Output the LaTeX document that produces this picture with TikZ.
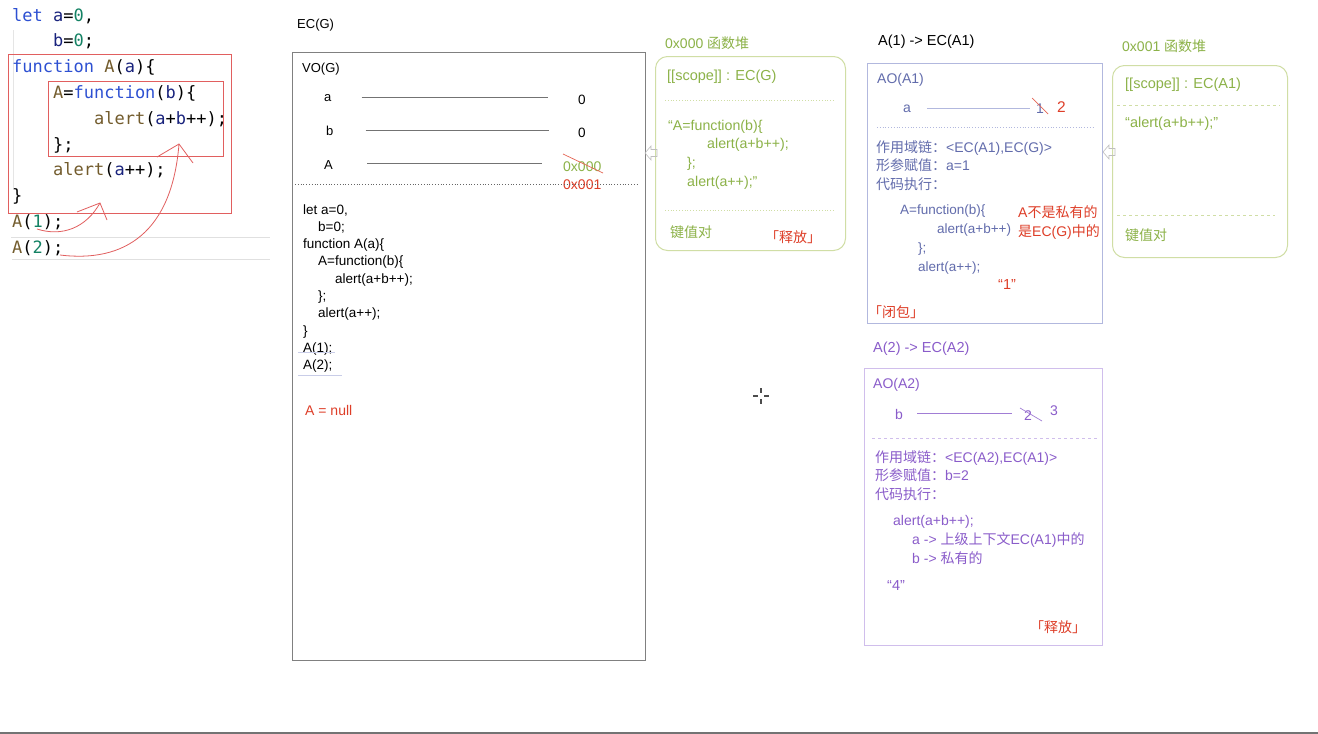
\documentclass[tikz,border=0pt]{standalone}
\usepackage{fontspec}
\setmainfont{Liberation Sans}
\setmonofont{DejaVu Sans Mono}
\newfontfamily\cjk{Noto Sans CJK SC}
\newcommand{\zh}[1]{{\cjk #1}}
\usepackage{xcolor}
\usetikzlibrary{arrows}

\definecolor{kwblue}{RGB}{45,80,210}
\definecolor{varnavy}{RGB}{25,35,125}
\definecolor{numgreen}{RGB}{20,130,100}
\definecolor{fnbrown}{RGB}{115,92,45}
\definecolor{penred}{RGB}{225,95,95}
\definecolor{notered}{RGB}{222,62,40}
\definecolor{heapgreen}{RGB}{140,178,72}
\definecolor{heapline}{RGB}{208,222,165}
\definecolor{aoblue}{RGB}{98,108,172}
\definecolor{aoline}{RGB}{178,184,222}
\definecolor{aopurple}{RGB}{138,92,202}
\definecolor{purpleline}{RGB}{208,190,236}

\newcommand{\kw}[1]{\textcolor{kwblue}{#1}}
\newcommand{\vr}[1]{\textcolor{varnavy}{#1}}
\newcommand{\nm}[1]{\textcolor{numgreen}{#1}}
\newcommand{\fn}[1]{\textcolor{fnbrown}{#1}}

\begin{document}
\begin{tikzpicture}[x=1pt, y=-1pt, >=latex']
    % multi-line nodes sit on the baseline of their last line
    \tikzstyle{txt} = [anchor=base west, inner sep=0pt, font=\fontsize{13}{17.3}\selectfont]
    \tikzstyle{big} = [txt, font=\fontsize{14.5}{19}\selectfont]
    \tikzstyle{code} = [txt, align=left, font=\ttfamily\fontsize{17}{25.8}\selectfont]
    \tikzstyle{aotxt} = [txt, align=left, font=\fontsize{14}{18.5}\selectfont]
    \tikzstyle{frame} = [draw, anchor=north west, inner sep=0pt]
    \tikzstyle{heap} = [frame, draw=heapline, line width=1pt, rounded corners=12pt]
    \tikzstyle{redpen} = [draw=penred, line width=0.8pt]
    \tikzstyle{strike} = [draw=notered!80, line width=0.7pt]
    \tikzstyle{hookline} = [draw=black!25, line width=0.6pt]
    \newcommand{\hookarrow}[2]{\path[hookline] (#1,#2) -- ++(6,-7) -- ++(0,3.5) -- ++(6,0)
        -- ++(0,7) -- ++(-6,0) -- ++(0,3.5) -- cycle;}

    \useasboundingbox (0,0) rectangle (1318,734);
    \fill[white] (0,0) rectangle (1318,734);

    % source code, top left
    \draw[black!12] (11,237) -- (270,237);
    \draw[black!12] (12,259) -- (270,259);
    \draw[black!10] (13,30) -- (13,190);
    \node [code] (src) at (12,253.2) {\kw{let} \vr{a}=\nm{0},\\
        \phantom{0000}\vr{b}=\nm{0};\\
        \kw{function} \fn{A}(\vr{a})\{\\
        \phantom{0000}\fn{A}=\kw{function}(\vr{b})\{\\
        \phantom{00000000}\fn{alert}(\vr{a}+\vr{b}++);\\
        \phantom{0000}\};\\
        \phantom{0000}\fn{alert}(\vr{a}++);\\
        \}\\
        \fn{A}(\nm{1});\\
        \fn{A}(\nm{2});};
    \draw[penred] (8,54) rectangle (231,213);
    \draw[penred] (48,81) rectangle (223,156);
    \coordinate (callone) at (37,229);
    \coordinate (calltwo) at (60,255);
    \coordinate (outerfn) at (100,203);
    \coordinate (innerfn) at (179,144);
    \path [redpen] (callone) .. controls (62,237) and (86,228) .. (outerfn);
    \path [redpen] (77,212) -- (outerfn) -- (107,220);
    \path [redpen] (calltwo) .. controls (125,263) and (172,232) .. (innerfn);
    \path [redpen] (157,157) -- (innerfn) -- (193,163);

    % EC(G)
    \node [txt] (ecglabel) at (297,28) {EC(G)};
    \node [frame, draw=black!50, line width=0.9pt, minimum width=353pt, minimum height=608pt] (ecg) at (292,52) {};
    \node [txt] (vog) at (302,72) {VO(G)};
    \node [txt] (va) at (324,101) {a};
    \node [txt, font=\fontsize{13.5}{17}\selectfont] (za) at (578,104) {0};
    \node [txt] (vb) at (326,135) {b};
    \node [txt, font=\fontsize{13.5}{17}\selectfont] (zb) at (578,137) {0};
    \node [txt] (vA) at (324,169) {A};
    \node [txt, text=heapgreen, font=\fontsize{14}{17}\selectfont] (addrG) at (563,171) {0x000};
    \node [txt, text=notered, font=\fontsize{14}{17}\selectfont] (addrA) at (563,189) {0x001};
    \draw[black!55] (va.east) +(30,0) -- +(216,0);
    \draw[black!55] (vb.east) +(32,0) -- +(215,0);
    \draw[black!55] (vA.east) +(34,-1) -- +(209,-1);
    \draw[strike] (563,154) -- (603,173);
    \draw[black!60, dotted, line width=0.8pt] (295,184) -- (637,184);
    \node [txt, align=left, font=\fontsize{13.5}{17.3}\selectfont] (gcode) at (303,369.7) {let a=0,\\
        \hspace*{15pt}b=0;\\
        function A(a)\{\\
        \hspace*{15pt}A=function(b)\{\\
        \hspace*{32pt}alert(a+b++);\\
        \hspace*{15pt}\};\\
        \hspace*{15pt}alert(a++);\\
        \}\\
        A(1);\\
        A(2);};
    \draw[aoline!70] (298,352) -- (335,352);
    \draw[aoline!70] (298,375) -- (342,375);
    \node [txt, text=notered, font=\fontsize{14}{17}\selectfont] (anull) at (305,415) {A = null};

    % 0x000 heap
    \node [txt, text=heapgreen, font=\fontsize{14}{17}\selectfont] (heapGlabel) at (665,48) {0x000 \zh{函数堆}};
    \node [heap, minimum width=190pt, minimum height=194pt] (heapG) at (655,56) {};
    \node [big, text=heapgreen] (scopeG) at (667,80) {[[scope]] : EC(G)};
    \draw[heapline, dotted, line width=0.8pt] (665,100) -- (835,100);
    \node [big, align=left, text=heapgreen, font=\fontsize{14.2}{18.8}\selectfont] (bodyG) at (668,186.4) {“A=function(b)\{\\
        \hspace*{39pt}alert(a+b++);\\
        \hspace*{19pt}\};\\
        \hspace*{19pt}alert(a++);”};
    \draw[heapline, dotted, line width=0.8pt] (665,210) -- (835,210);
    \node [txt, text=heapgreen, font=\fontsize{14}{17}\selectfont] (kvG) at (670,237) {\zh{键值对}};
    \node [txt, text=notered, font=\fontsize{14}{17}\selectfont] (freeG) at (765,242) {\zh{「释放」}};
    \hookarrow{645}{153}

    % A(1) -> EC(A1)
    \node [big] (ecaone) at (878,45) {A(1) -{}> EC(A1)};
    \node [frame, draw=aoline, line width=1pt, minimum width=235pt, minimum height=260pt] (aoone) at (867,63) {};
    \node [txt, text=aoblue, font=\fontsize{14}{17}\selectfont] (aoonelabel) at (877,83) {AO(A1)};
    \node [txt, text=aoblue, font=\fontsize{14}{17}\selectfont] (aa) at (903,112) {a};
    \node [txt, text=aoblue, font=\fontsize{14}{17}\selectfont] (aone) at (1036,113) {1};
    \node [txt, text=notered, font=\fontsize{15.5}{17}\selectfont] (atwo) at (1057,112) {2};
    \draw[aoline] (aa.east) +(16,0) -- +(119,0);
    \draw[strike] (1032,98) -- (1048,114);
    \draw[aoline, dotted, line width=0.8pt] (877,127) -- (1095,127);
    \node [aotxt, text=aoblue] (infoone) at (876,189) {\zh{作用域链：}<EC(A1),EC(G)>\\
        \zh{形参赋值：}a=1\\
        \zh{代码执行：}};
    \node [txt, align=left, text=aoblue, font=\fontsize{13.5}{19.3}\selectfont] (runone) at (900,271.9) {A=function(b)\{\\
        \hspace*{37pt}alert(a+b++)\\
        \hspace*{18pt}\};\\
        \hspace*{18pt}alert(a++);};
    \node [aotxt, text=notered, font=\fontsize{14}{19.3}\selectfont] (notA) at (1018,236.3) {A\zh{不是私有的}\\
        \zh{是}EC(G)\zh{中的}};
    \node [big, text=notered] (outone) at (998,289) {“1”};
    \node [txt, text=notered, font=\fontsize{14}{17}\selectfont] (closure) at (868,317) {\zh{「闭包」}};

    % 0x001 heap
    \node [txt, text=heapgreen, font=\fontsize{14}{17}\selectfont] (heapAlabel) at (1122,51) {0x001 \zh{函数堆}};
    \node [heap, minimum width=175pt, minimum height=192pt] (heapA) at (1112,65) {};
    \node [big, text=heapgreen] (scopeA) at (1125,88) {[[scope]] : EC(A1)};
    \draw[heapline, dashed, line width=0.8pt] (1117,105) -- (1280,105);
    \node [big, text=heapgreen] (bodyA) at (1125,127) {“alert(a+b++);”};
    \draw[heapline, dashed, line width=0.8pt] (1117,215) -- (1275,215);
    \node [txt, text=heapgreen, font=\fontsize{14}{17}\selectfont] (kvA) at (1125,240) {\zh{键值对}};
    \hookarrow{1103}{152}

    % A(2) -> EC(A2)
    \node [big, text=aopurple] (ecatwo) at (873,352) {A(2) -{}> EC(A2)};
    \node [frame, draw=purpleline, line width=1pt, minimum width=238pt, minimum height=277pt] (aotwo) at (864,368) {};
    \node [txt, text=aopurple, font=\fontsize{14}{17}\selectfont] (aotwolabel) at (873,388) {AO(A2)};
    \node [txt, text=aopurple, font=\fontsize{14}{17}\selectfont] (bb) at (895,419) {b};
    \node [txt, text=aopurple, font=\fontsize{14}{17}\selectfont] (btwo) at (1024,420) {2};
    \node [txt, text=aopurple, font=\fontsize{14}{17}\selectfont] (bthree) at (1050,415) {3};
    \draw[aopurple!80] (bb.east) +(14,-1) -- +(109,-1);
    \draw[aopurple!80, line width=0.7pt] (1020,408) -- (1042,421);
    \draw[purpleline, dashed, line width=0.8pt] (872,438) -- (1098,438);
    \node [aotxt, text=aopurple] (infotwo) at (875,499) {\zh{作用域链：}<EC(A2),EC(A1)>\\
        \zh{形参赋值：}b=2\\
        \zh{代码执行：}};
    \node [txt, align=left, text=aopurple, font=\fontsize{14}{19}\selectfont] (runtwo) at (893,563) {alert(a+b++);\\
        \hspace*{19pt}a -{}> \zh{上级上下文}EC(A1)\zh{中的}\\
        \hspace*{19pt}b -{}> \zh{私有的}};
    \node [big, text=aopurple] (outtwo) at (887,590) {“4”};
    \node [txt, text=notered, font=\fontsize{14}{17}\selectfont] (freeA) at (1030,632) {\zh{「释放」}};

    % cursor and bottom edge
    \draw[black!70, line width=2pt] (753,396) -- (758,396) (764,396) -- (769,396)
        (761,388) -- (761,393) (761,399) -- (761,404);
    \fill[black!55] (0,731.5) rectangle (1318,734);
\end{tikzpicture}
\end{document}
